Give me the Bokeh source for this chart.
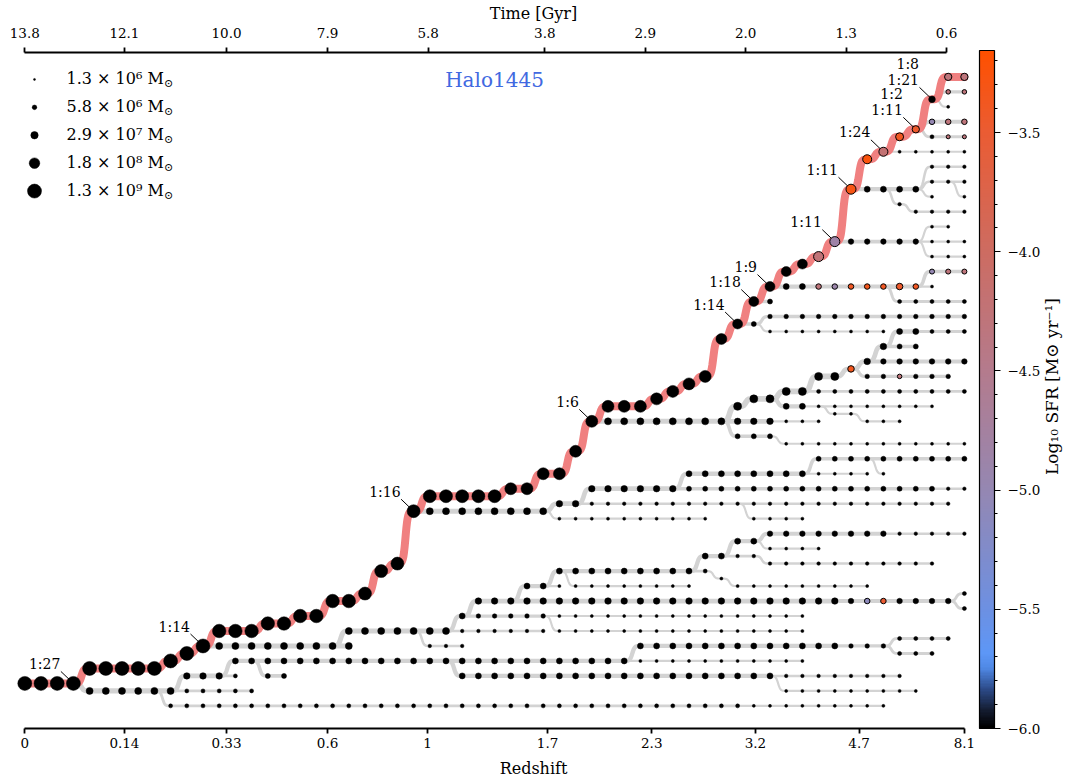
import numpy as np
from bokeh.plotting import figure
from bokeh.models import (Range1d, LinearAxis, FixedTicker, ColorBar, LinearColorMapper,
                          ColumnDataSource, CustomJSTickFormatter)
from bokeh.transform import transform
from bokeh.core.properties import value
from bokeh.embed import file_html
from bokeh.resources import INLINE

# ---------------- data ----------------
REDSHIFT_TICK_POS = [0, 6.15, 12.45, 18.69, 24.86, 32.27, 38.7, 45.1, 51.5, 58.0]
REDSHIFT_TICK_LABELS = ["0", "0.14", "0.33", "0.6", "1", "1.7", "2.3", "3.2", "4.7", "8.1"]
TIME_TICK_POS = [0, 6.15, 12.45, 18.69, 24.9, 32.1, 38.3, 44.5, 50.7, 56.9]
TIME_TICK_LABELS = ["13.8", "12.1", "10.0", "7.9", "5.8", "3.8", "2.9", "2.0", "1.3", "0.6"]

LEGEND_MASS = [1.3e6, 5.8e6, 2.9e7, 1.8e8, 1.3e9]
LEGEND_LABELS = ["1.3 × 10⁶ M", "5.8 × 10⁶ M", "2.9 × 10⁷ M", "1.8 × 10⁸ M", "1.3 × 10⁹ M"]

SFR_LOW, SFR_HIGH = -6.0, -3.156
SFR_TICKS = [-6.0, -5.5, -5.0, -4.5, -4.0, -3.5]

# branches: parent index, first snapshot, rows (run length), log10 mass (run length)
BRANCH_PARENT = [-1, 0, 1, 1, 3, 4, 4, 6, 4, 8, 8, 0, 11, 12, 12, 14, 15, 15, 14, 15, 19, 20, 20, 22, 23,
                 0, 25, 25, 27, 28, 29, 30, 27, 0, 33, 33, 0, 36, 36, 34, 34, 34, 34, 34, 43, 0, 0, 46, 46,
                 0, 49, 49, 0, 52, 52, 52, 55, 52, 0, 0, 0, 0, 0]
BRANCH_START = [0, 4, 9, 10, 13, 15, 27, 47, 38, 54, 54, 12, 20, 25, 27, 28, 58, 58, 33, 31, 33, 34, 42, 44, 46,
                25, 33, 33, 35, 41, 49, 53, 45, 36, 44, 44, 45, 46, 46, 54, 53, 52, 49, 47, 50, 46, 47, 56, 54,
                51, 56, 56, 52, 54, 56, 56, 58, 56, 54, 56, 56, 57, 57]
BRANCH_ROWS = [
    [(4, 1.5), (5, 2.5), (1, 3), (1, 3.5), (1, 4), (3, 5), (2, 5.5), (2, 6), (2, 7), (1, 7.5), (1, 9),
     (1, 9.5), (1, 13), (5, 14), (2, 14.5), (2, 15.5), (1, 17), (1, 19), (3, 20), (1, 20.5), (1, 21),
     (1, 21.5), (1, 22), (1, 24.5), (1, 25.5), (1, 27), (1, 28), (1, 29), (1, 29.5), (1, 30), (1, 31),
     (1, 34.5), (1, 36.5), (1, 37), (1, 38), (1, 38.5), (1, 40.5), (2, 42)],
    [(11, 1)], [(45, 0)], [(4, 2)], [(36, 3)], [(2, 2)], [(28, 2)], [(9, 1)], [(16, 4)], [(4, 4.5)], [(3, 3.5)],
    [(9, 4)], [(13, 5)], [(3, 4)], [(22, 6)], [(30, 7)], [(1, 7.5)], [(1, 6.5)], [(16, 5)], [(3, 8)],
    [(10, 9), (1, 8.5), (9, 8)], [(8, 8)], [(4, 10), (11, 9.5)], [(2, 11), (13, 11.5)], [(4, 10.5)],
    [(8, 13)], [(10, 12.5)], [(25, 13.5)], [(24, 14.5)], [(12, 15.5)], [(10, 16.5)], [(1, 15.5)], [(4, 12.5)],
    [(14, 19)], [(1, 20), (2, 20.5), (2, 21), (2, 22), (1, 22.5), (1, 23), (1, 24), (5, 25)],
    [(3, 18), (12, 17.5)], [(1, 25.5)], [(13, 26)], [(8, 25)], [(2, 24)], [(6, 23)], [(6, 22)], [(10, 21)],
    [(10, 20)], [(2, 19.5), (3, 19)], [(1, 27)], [(10, 28)], [(3, 29)], [(5, 27)],
    [(8, 31)], [(2, 32)], [(3, 30)], [(4, 34.5)], [(1, 33.5), (4, 33)], [(1, 34)], [(3, 35)], [(1, 34)],
    [(3, 36)], [(5, 37)], [(3, 38)], [(3, 39)], [(2, 41)], [(1, 40)],
]
BRANCH_LOGM = [
    [(12, 9.11), (9, 8.99), (9, 8.86), (13, 8.61), (1, 8.36), (4, 8.11), (4, 8.11), (2, 7.86), (1, 7.61),
     (1, 7.44), (1, 7.29), (2, 7.44)],
    [(6, 7.36), (5, 6.61)], [(36, 6.61), (9, 6.36)], [(3, 7.24), (1, 6.61)], [(25, 7.11), (11, 6.36)],
    [(2, 6.86)], [(20, 7.11), (8, 6.49)], [(9, 6.36)], [(13, 7.11), (3, 6.74)], [(4, 6.61)], [(3, 6.61)],
    [(9, 7.36)], [(7, 7.36), (6, 6.49)], [(3, 6.49)], [(1, 7.11), (5, 6.74), (16, 6.36)],
    [(23, 7.24), (7, 6.99)], [(1, 6.61)], [(1, 6.61)], [(16, 6.36)], [(2, 7.11), (1, 6.36)],
    [(9, 7.11), (1, 6.61), (10, 6.36)], [(8, 6.36)], [(2, 7.11), (13, 6.49)], [(2, 7.11), (8, 6.99), (5, 6.49)],
    [(4, 6.36)],
    [(8, 7.36)], [(10, 6.36)], [(2, 7.24), (23, 6.49)], [(6, 7.24), (16, 6.86), (2, 6.49)],
    [(8, 7.11), (4, 6.36)], [(10, 6.86)], [(1, 6.36)], [(4, 6.36)],
    [(8, 7.36), (3, 7.24), (3, 6.36)], [(7, 7.61), (3, 7.24), (2, 7.11), (3, 6.61)],
    [(3, 6.86), (12, 6.36)], [(1, 6.86)], [(13, 6.74)], [(8, 6.36)], [(2, 6.86)], [(6, 6.99)], [(6, 6.74)],
    [(10, 6.61)], [(2, 7.11), (8, 6.36)], [(5, 6.36)], [(1, 6.86)],
    [(2, 7.11), (5, 6.99), (1, 7.24), (1, 6.99), (1, 6.36)], [(3, 6.86)], [(5, 6.61)],
    [(5, 6.99), (3, 6.36)], [(2, 6.36)], [(3, 6.36)], [(4, 7.11)], [(5, 6.49)], [(1, 6.36)], [(3, 6.49)],
    [(1, 6.36)], [(3, 6.49)], [(5, 6.36)], [(3, 6.61)], [(3, 6.99)], [(2, 6.74)], [(1, 6.36)],
]
# nodes with a measured star formation rate: (branch, snapshot, log10 SFR)
SFR_NODES = [
    (0, 49, -4.25), (0, 50, -4.85), (0, 51, -3.3), (0, 52, -3.25), (0, 53, -4.2), (0, 54, -3.4),
    (0, 55, -3.45), (0, 57, -4.3), (0, 58, -4.3),
    (46, 49, -4.3), (46, 50, -4.9), (46, 51, -3.4), (46, 52, -3.35), (46, 53, -3.4), (46, 54, -3.45),
    (46, 55, -3.4),
    (15, 52, -5.1), (15, 53, -3.5), (34, 51, -3.35), (41, 54, -4.3),
    (47, 56, -5.0), (47, 57, -4.3), (47, 58, -4.3), (59, 57, -4.3), (59, 58, -4.3),
    (60, 56, -5.0), (60, 57, -4.3), (60, 58, -4.3), (61, 57, -4.3), (61, 58, -4.3),
]
# merger ratios on the main branch: (snapshot, label, stack position)
MERGERS = [(3, "1:27", 0), (11, "1:14", 0), (24, "1:16", 0), (35, "1:6", 0), (44, "1:14", 0),
           (45, "1:18", 0), (46, "1:9", 0), (50, "1:11", 0), (51, "1:11", 0), (53, "1:24", 0),
           (55, "1:11", 0), (55, "1:2", 1), (56, "1:21", 0), (56, "1:8", 1)]

# ---------------- geometry ----------------
W, H = 1066, 783
X0_PX, DX_PX = 24.3, 16.2
Y0_PX, DY_PX = 705.3, 15.02
TOP, BOTTOM = 50, 55
FONT = "DejaVu Serif"


def sx2x(px):
    return (px - X0_PX) / DX_PX


def sy2y(py):
    return (Y0_PX - py) / DY_PX


def size_of(logm):
    return 2.0 + 4.0 * (np.asarray(logm) - 6.11)


def expand(runs):
    out = []
    for n, v in runs:
        out += [v] * n
    return out


def curve(x0, y0, x1, y1, n=28):
    if y0 == y1:
        return [x0, x1], [y0, y1]
    t = np.linspace(0, 1, n)
    k = 7.0
    g = (np.tanh(k * (t - 0.5)) + np.tanh(k / 2)) / (2 * np.tanh(k / 2))
    return list(x0 + (x1 - x0) * t), list(y0 + (y1 - y0) * g)


# palette for log SFR
STOPS = [(-6.00, "#000000"), (-5.93, "#141c30"), (-5.84, "#2c4a88"), (-5.75, "#5089e6"),
         (-5.69, "#5d97f7"), (-5.50, "#6d90e2"), (-5.00, "#9587b2"), (-4.50, "#b47b8d"),
         (-4.00, "#cd6c62"), (-3.50, "#ea5c34"), (-3.156, "#ff5000")]


def h2rgb(h):
    return [int(h[i:i + 2], 16) for i in (1, 3, 5)]


sv = np.array([s[0] for s in STOPS])
sc = np.array([h2rgb(s[1]) for s in STOPS], dtype=float)
vals = np.linspace(SFR_LOW, SFR_HIGH, 256)
PALETTE = ["#%02x%02x%02x" % tuple(int(round(np.interp(v, sv, sc[:, j]))) for j in range(3)) for v in vals]
mapper = LinearColorMapper(palette=PALETTE, low=SFR_LOW, high=SFR_HIGH)

# ---------------- build tree geometry ----------------
nodes = []  # per branch: dict snap->(row, logm)
for b in range(len(BRANCH_PARENT)):
    rows = expand(BRANCH_ROWS[b])
    ms = expand(BRANCH_LOGM[b])
    assert len(rows) == len(ms), (b, len(rows), len(ms))
    nodes.append({BRANCH_START[b] + i: (rows[i], ms[i]) for i in range(len(rows))})

g_xs, g_ys, g_w = [], [], []
main_x, main_y = [], []
for b in range(len(BRANCH_PARENT)):
    snaps = sorted(nodes[b])
    pts = []
    if BRANCH_PARENT[b] >= 0:
        ps = snaps[0] - 1
        pts.append((ps, nodes[BRANCH_PARENT[b]][ps][0], nodes[b][snaps[0]][1]))
    for s in snaps:
        pts.append((s, nodes[b][s][0], nodes[b][s][1]))
    for (xa, ya, ma), (xb, yb, mb) in zip(pts[:-1], pts[1:]):
        cx, cy = curve(xa, ya, xb, yb)
        if b == 0:
            if main_x:
                cx, cy = cx[1:], cy[1:]
            main_x += cx
            main_y += cy
        else:
            g_xs.append(cx)
            g_ys.append(cy)
            g_w.append(max(1.6, 0.72 * float(size_of(mb))))

sfr_lookup = {(b, s): v for b, s, v in SFR_NODES}
bx, by, bd, cx_, cy_, cd, cv = [], [], [], [], [], [], []
for b in list(range(1, len(BRANCH_PARENT))) + [0]:
    for s in sorted(nodes[b]):
        r, m = nodes[b][s]
        if (b, s) in sfr_lookup:
            cx_.append(s); cy_.append(r); cd.append(float(size_of(m))); cv.append(sfr_lookup[(b, s)])
        else:
            bx.append(s); by.append(r); bd.append(float(size_of(m)))

# ---------------- figure ----------------
p = figure(width=W, height=H, x_range=Range1d(sx2x(0), sx2x(W)),
           y_range=Range1d(sy2y(H - BOTTOM), sy2y(TOP)),
           x_axis_location=None, y_axis_location=None,
           output_backend="svg", toolbar_location=None,
           min_border_left=0, min_border_right=0, min_border_top=TOP, min_border_bottom=BOTTOM)
p.outline_line_color = None
p.xgrid.visible = False
p.ygrid.visible = False
p.background_fill_color = "white"
p.border_fill_color = "white"


def style_axis(ax, label_standoff, axis_label_standoff):
    ax.axis_line_width = 1.8
    ax.axis_line_color = "black"
    ax.major_tick_line_width = 1.8
    ax.major_tick_line_color = "black"
    ax.major_tick_out = 5
    ax.major_tick_in = 0
    ax.minor_tick_out = 0
    ax.minor_tick_in = 0
    ax.major_label_text_font = FONT
    ax.major_label_text_font_size = "13.5px"
    ax.major_label_text_color = "black"
    ax.axis_label_text_font = FONT
    ax.axis_label_text_font_size = "16px"
    ax.axis_label_text_font_style = "normal"
    ax.axis_label_text_color = "black"
    ax.major_label_standoff = label_standoff
    ax.axis_label_standoff = axis_label_standoff


xb_ax = LinearAxis(ticker=FixedTicker(ticks=REDSHIFT_TICK_POS),
                   major_label_overrides={float(t): l for t, l in zip(REDSHIFT_TICK_POS, REDSHIFT_TICK_LABELS)},
                   bounds=(REDSHIFT_TICK_POS[0], REDSHIFT_TICK_POS[-1]), axis_label="Redshift")
style_axis(xb_ax, 4, 8)
p.add_layout(xb_ax, "below")
xt_ax = LinearAxis(ticker=FixedTicker(ticks=TIME_TICK_POS),
                   major_label_overrides={float(t): l for t, l in zip(TIME_TICK_POS, TIME_TICK_LABELS)},
                   bounds=(TIME_TICK_POS[0], TIME_TICK_POS[-1]), axis_label="Time [Gyr]")
style_axis(xt_ax, 10, 2)
p.add_layout(xt_ax, "above")

# side branches (gray)
p.multi_line(xs="xs", ys="ys", line_width="w", source=ColumnDataSource(dict(xs=g_xs, ys=g_ys, w=g_w)),
             line_color="#d3d3d3", line_cap="round", line_join="round")
# main branch (red)
p.line(main_x, main_y, line_width=8, line_color="#f08080", line_cap="round", line_join="round")

# merger leader lines
lead = [(s, nodes[0][s][0]) for s, _, k in MERGERS if k == 0]
p.segment(x0=[s - 12.5 / DX_PX for s, r in lead], y0=[r + 12.0 / DY_PX for s, r in lead],
          x1=[s for s, r in lead], y1=[r for s, r in lead], line_color="black", line_width=1)

# nodes
p.scatter(x=bx, y=by, size=bd, fill_color="black", line_color="black", line_width=0.5)
p.scatter(x="x", y="y", size="d", source=ColumnDataSource(dict(x=cx_, y=cy_, d=cd, v=cv)),
          fill_color=transform("v", mapper), line_color="black", line_width=1)

# merger labels
p.text(x=[s - 13.0 / DX_PX for s, _, k in MERGERS],
       y=[nodes[0][s][0] + (19.5 + 15.5 * k) / DY_PX for s, _, k in MERGERS],
       text=[t for _, t, _ in MERGERS], text_font=value(FONT), text_font_size=value("14px"),
       text_align="right", text_baseline="middle", text_color="black")

# legend
ly = [77 + 28 * i for i in range(len(LEGEND_MASS))]
p.scatter(x=[sx2x(34)] * len(ly), y=[sy2y(v) for v in ly], size=list(size_of(np.log10(LEGEND_MASS))),
          fill_color="black", line_color="black", line_width=0.5)
p.text(x=[sx2x(66)] * len(ly), y=[sy2y(v - 1) for v in ly], text=LEGEND_LABELS, text_font=value(FONT),
       text_font_size=value("16px"), text_align="left", text_baseline="middle", text_color="black")
p.text(x=[sx2x(163.5)] * len(ly), y=[sy2y(v + 4) for v in ly], text=["⊙"] * len(ly), text_font=value(FONT),
       text_font_size=value("11px"), text_align="left", text_baseline="middle", text_color="black")

# title
p.text(x=[sx2x(494)], y=[sy2y(78)], text=["Halo1445"], text_font=value(FONT), text_font_size=value("20px"),
       text_align="center", text_baseline="middle", text_color="#4169e1")

# colour bar
cb = ColorBar(color_mapper=mapper, location=(979, 0), width=15, height=H - TOP - BOTTOM, padding=0,
              ticker=FixedTicker(ticks=SFR_TICKS, minor_ticks=list(np.round(np.arange(-6.0, -3.15, 0.1), 2))),
              formatter=CustomJSTickFormatter(code="return (tick < 0 ? '\\u2212' : '') + Math.abs(tick).toFixed(1)"),
              major_label_text_font=FONT, major_label_text_font_size="13.5px", major_label_text_color="black",
              label_standoff=7, major_tick_line_color="black", major_tick_out=6, major_tick_in=0,
              major_tick_line_width=1.2, minor_tick_line_color="black", minor_tick_out=3, minor_tick_in=0,
              bar_line_color="black", bar_line_width=1.2, border_line_color=None, background_fill_color=None)
p.add_layout(cb)
p.text(x=[sx2x(1051)], y=[sy2y(385)], text=["Log₁₀ SFR [M⊙ yr⁻¹]"], angle=np.pi / 2,
       text_font=value(FONT), text_font_size=value("17px"), text_align="center", text_baseline="middle",
       text_color="black")

open("out.html", "w").write(file_html(p, INLINE))
